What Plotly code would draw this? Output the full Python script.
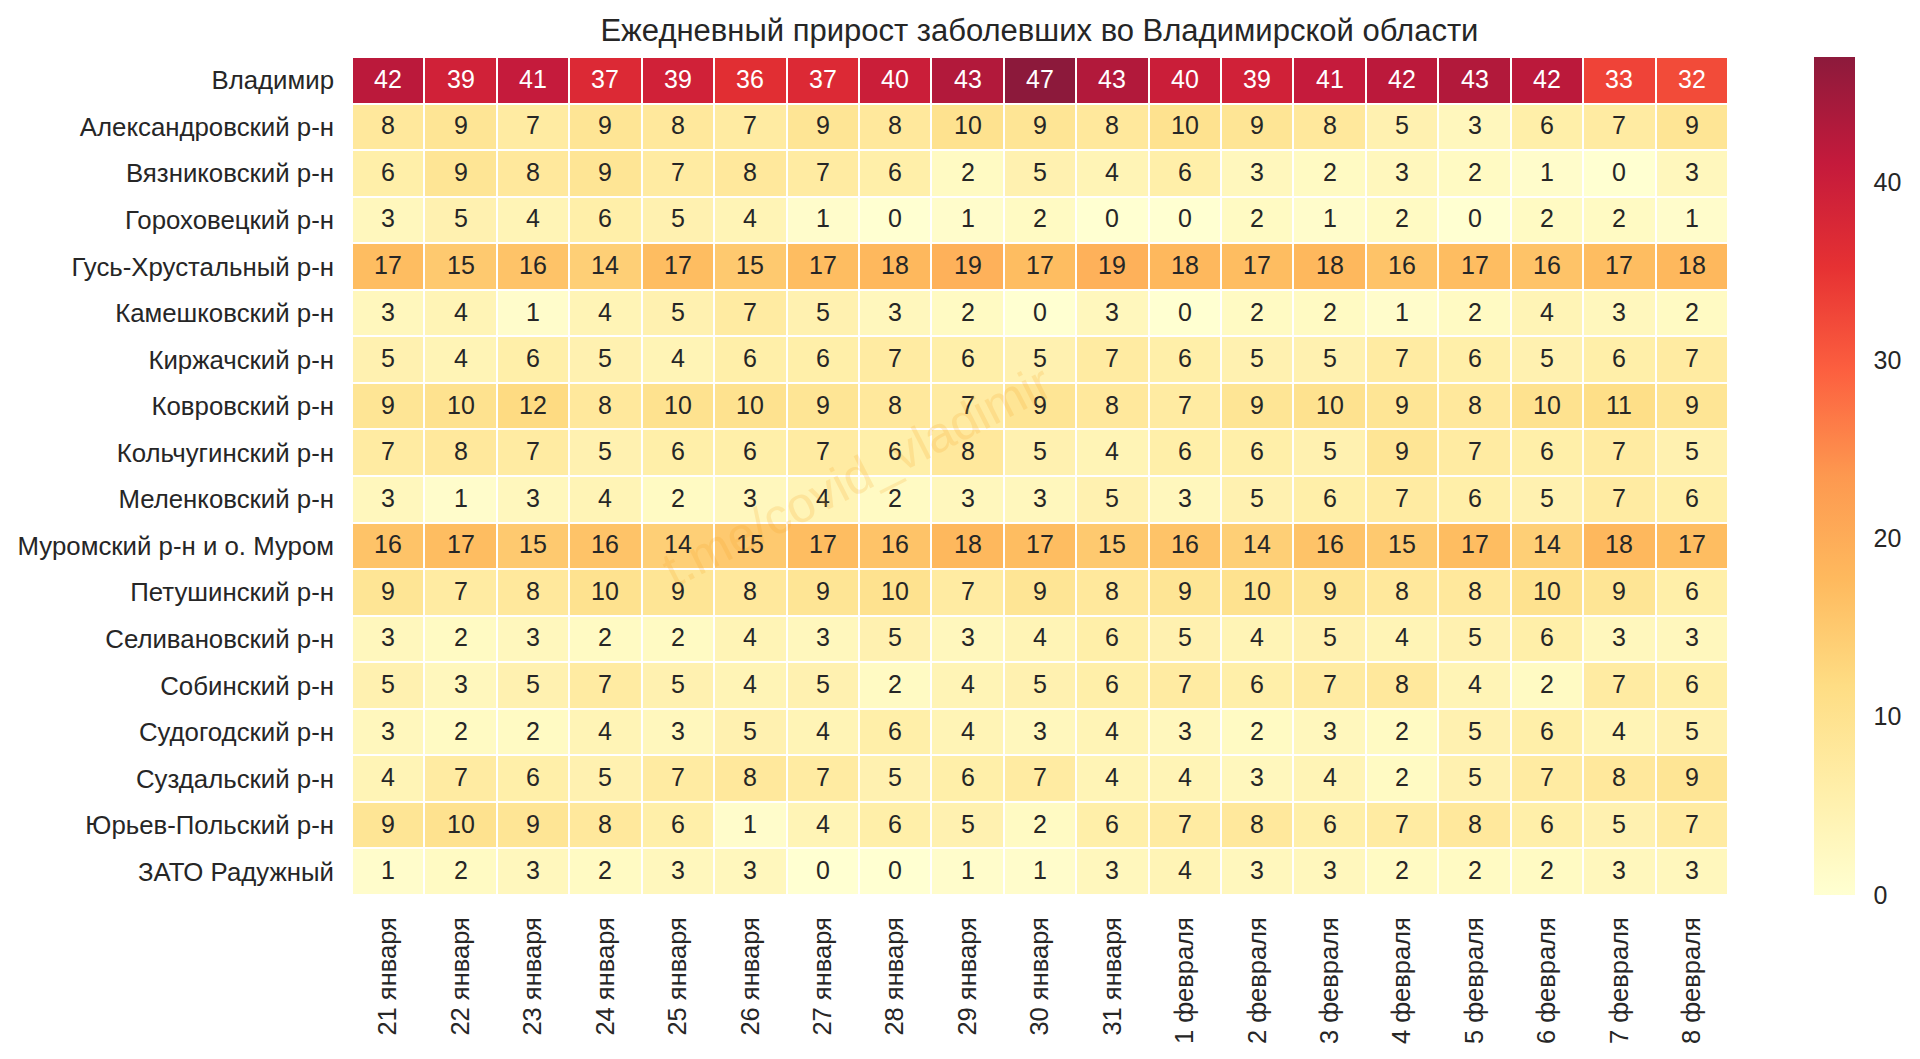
import plotly.graph_objects as go

districts = ["Владимир", "Александровский р-н", "Вязниковский р-н", "Гороховецкий р-н",
             "Гусь-Хрустальный р-н", "Камешковский р-н", "Киржачский р-н", "Ковровский р-н",
             "Кольчугинский р-н", "Меленковский р-н", "Муромский р-н и о. Муром",
             "Петушинский р-н", "Селивановский р-н", "Собинский р-н", "Судогодский р-н",
             "Суздальский р-н", "Юрьев-Польский р-н", "ЗАТО Радужный"]

dates = ["21 января", "22 января", "23 января", "24 января", "25 января", "26 января",
         "27 января", "28 января", "29 января", "30 января", "31 января", "1 февраля",
         "2 февраля", "3 февраля", "4 февраля", "5 февраля", "6 февраля", "7 февраля",
         "8 февраля"]

values = [
    [42, 39, 41, 37, 39, 36, 37, 40, 43, 47, 43, 40, 39, 41, 42, 43, 42, 33, 32],
    [8, 9, 7, 9, 8, 7, 9, 8, 10, 9, 8, 10, 9, 8, 5, 3, 6, 7, 9],
    [6, 9, 8, 9, 7, 8, 7, 6, 2, 5, 4, 6, 3, 2, 3, 2, 1, 0, 3],
    [3, 5, 4, 6, 5, 4, 1, 0, 1, 2, 0, 0, 2, 1, 2, 0, 2, 2, 1],
    [17, 15, 16, 14, 17, 15, 17, 18, 19, 17, 19, 18, 17, 18, 16, 17, 16, 17, 18],
    [3, 4, 1, 4, 5, 7, 5, 3, 2, 0, 3, 0, 2, 2, 1, 2, 4, 3, 2],
    [5, 4, 6, 5, 4, 6, 6, 7, 6, 5, 7, 6, 5, 5, 7, 6, 5, 6, 7],
    [9, 10, 12, 8, 10, 10, 9, 8, 7, 9, 8, 7, 9, 10, 9, 8, 10, 11, 9],
    [7, 8, 7, 5, 6, 6, 7, 6, 8, 5, 4, 6, 6, 5, 9, 7, 6, 7, 5],
    [3, 1, 3, 4, 2, 3, 4, 2, 3, 3, 5, 3, 5, 6, 7, 6, 5, 7, 6],
    [16, 17, 15, 16, 14, 15, 17, 16, 18, 17, 15, 16, 14, 16, 15, 17, 14, 18, 17],
    [9, 7, 8, 10, 9, 8, 9, 10, 7, 9, 8, 9, 10, 9, 8, 8, 10, 9, 6],
    [3, 2, 3, 2, 2, 4, 3, 5, 3, 4, 6, 5, 4, 5, 4, 5, 6, 3, 3],
    [5, 3, 5, 7, 5, 4, 5, 2, 4, 5, 6, 7, 6, 7, 8, 4, 2, 7, 6],
    [3, 2, 2, 4, 3, 5, 4, 6, 4, 3, 4, 3, 2, 3, 2, 5, 6, 4, 5],
    [4, 7, 6, 5, 7, 8, 7, 5, 6, 7, 4, 4, 3, 4, 2, 5, 7, 8, 9],
    [9, 10, 9, 8, 6, 1, 4, 6, 5, 2, 6, 7, 8, 6, 7, 8, 6, 5, 7],
    [1, 2, 3, 2, 3, 3, 0, 0, 1, 1, 3, 4, 3, 3, 2, 2, 2, 3, 3],
]

# YlOrRd with alpha 0.9, the original heatmap is slightly see-through
ylorrd = ["rgba(255,255,204,0.9)", "rgba(255,237,160,0.9)", "rgba(254,217,118,0.9)",
          "rgba(254,178,76,0.9)", "rgba(253,141,60,0.9)", "rgba(252,78,42,0.9)",
          "rgba(227,26,28,0.9)", "rgba(189,0,38,0.9)", "rgba(128,0,38,0.9)"]
colorscale = [[i / 8, c] for i, c in enumerate(ylorrd)]
dark = "#262626"

fig = go.Figure(go.Heatmap(
    z=values,
    x=dates,
    y=districts,
    zmin=0,
    zmax=47,
    colorscale=colorscale,
    xgap=2,
    ygap=2,
    colorbar={
        "thickness": 41,
        "len": 1,
        "x": 1.0624,
        "xanchor": "left",
        "xpad": 0,
        "y": 0,
        "yanchor": "bottom",
        "ypad": 0,
        "outlinewidth": 0,
        "tickvals": [0, 10, 20, 30, 40],
        "ticks": "outside",
        "ticklen": 14,
        "tickcolor": "rgba(0,0,0,0)",
        "tickfont": {"size": 25, "color": dark},
    },
))

# cell numbers, white on the dark cells like seaborn does
for row, name in zip(values, districts):
    for v, d in zip(row, dates):
        fig.add_annotation(x=d, y=name, text=str(v), showarrow=False, yshift=1.5,
                           font={"size": 25, "color": "white" if v > 25 else dark})

fig.add_annotation(text="t.me/covid_vladimir", xref="paper", yref="paper", x=0.367, y=0.5,
                   showarrow=False, textangle=-27, opacity=0.18,
                   font={"size": 50, "color": "#f5a020"})

fig.update_layout(
    width=1920,
    height=1059,
    margin={"l": 343.7, "r": 200.3, "t": 48.5, "b": 172, "autoexpand": False},
    paper_bgcolor="white",
    plot_bgcolor="white",
    font={"family": "Liberation Sans, Arial, sans-serif", "color": dark},
    title={"text": "Ежедневный прирост заболевших во Владимирской области",
           "font": {"size": 31, "color": dark}, "x": 0.5372, "xanchor": "center",
           "y": 0.9787, "yanchor": "middle"},
)
fig.update_xaxes(tickangle=-90, ticks="", ticklabelstandoff=16, showgrid=False, zeroline=False,
                 tickfont={"size": 25.5, "color": dark})
fig.update_yaxes(autorange="reversed", ticks="", ticklabelstandoff=17, showgrid=False, zeroline=False,
                 tickfont={"size": 25.8, "color": dark})

fig.write_html("out.html")
